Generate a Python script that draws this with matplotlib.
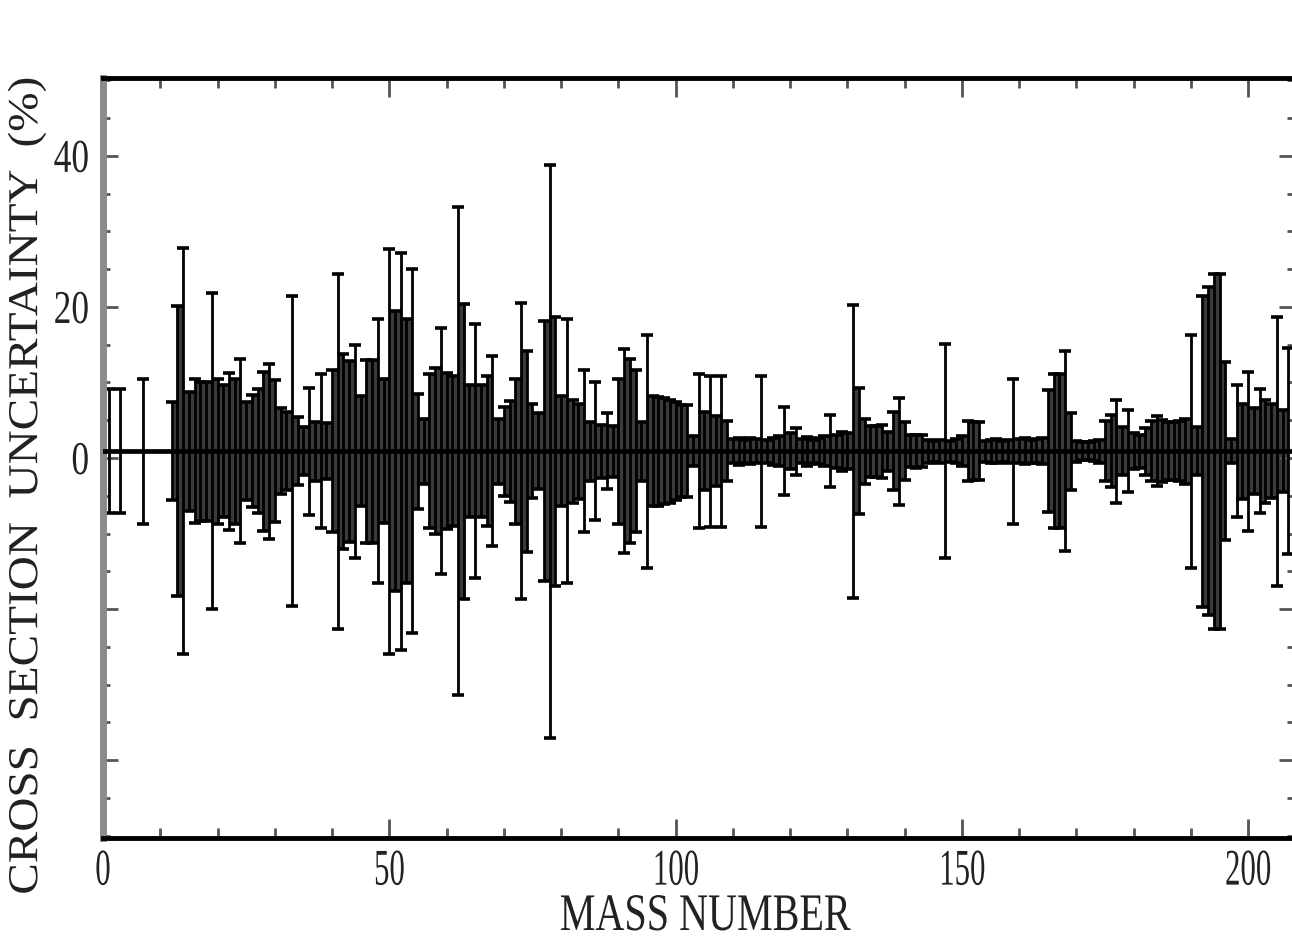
import numpy as np
import matplotlib
matplotlib.use("Agg")
import matplotlib.pyplot as plt
from matplotlib import patheffects
from matplotlib.transforms import Affine2D

plt.rcParams['font.family'] = ['Liberation Serif', 'DejaVu Serif']

# mass numbers and relative cross-section uncertainties (%)
mass = [1, 3, 7] + list(range(12, 208))
uncert = [
    8.2, 8.2, 9.6,
    # 12-31
    6.5, 19.2, 26.9, 7.9, 9.5, 9.2, 9.2, 20.9, 9.6, 8.7,
    10.4, 9.6, 12.2, 6.5, 7.4, 8.2, 10.5, 11.6, 9.4, 5.7,
    # 32-51
    5.2, 20.5, 4.5, 3.2, 8.4, 3.9, 10.2, 3.7, 10.7, 23.5,
    12.9, 12.0, 14.1, 7.3, 12.1, 12.1, 17.5, 9.5, 26.8, 18.5,
    # 52-71
    26.3, 17.5, 24.1, 7.6, 4.3, 10.2, 11.0, 16.3, 10.3, 9.9,
    32.3, 19.5, 8.7, 16.8, 8.7, 9.9, 12.6, 4.3, 5.9, 6.7,
    # 72-91
    9.6, 19.6, 13.3, 6.2, 5.0, 17.2, 37.9, 17.8, 7.3, 17.5,
    6.8, 6.3, 10.7, 3.9, 9.1, 3.5, 5.0, 3.4, 9.6, 13.5,
    # 92-111
    12.2, 10.7, 3.9, 15.4, 7.3, 7.2, 7.0, 6.8, 6.5, 6.1,
    6.1, 2.0, 10.2, 5.2, 10.0, 4.6, 10.0, 4.0, 1.6, 1.8,
    # 112-131
    1.5, 1.7, 1.6, 10.0, 1.5, 1.8, 2.0, 5.8, 2.4, 3.1,
    1.6, 1.9, 1.5, 1.7, 2.0, 4.8, 2.2, 2.6, 2.4, 19.4,
    # 132-151
    8.3, 4.3, 3.4, 3.4, 3.5, 2.6, 5.2, 7.1, 3.8, 2.1,
    2.2, 2.1, 1.5, 1.4, 1.5, 14.2, 1.4, 1.6, 2.0, 4.0,
    # 152-171
    3.8, 3.8, 1.4, 1.5, 1.6, 1.4, 1.5, 9.6, 1.6, 1.7,
    1.5, 1.6, 1.7, 8.1, 10.2, 10.2, 13.2, 5.1, 1.4, 1.2,
    # 172-191
    1.2, 1.3, 1.5, 4.0, 4.8, 6.8, 3.2, 5.4, 2.4, 2.2,
    3.1, 4.0, 4.6, 4.1, 3.8, 3.8, 4.0, 4.3, 15.4, 3.2,
    # 192-207
    20.6, 21.7, 23.5, 23.5, 11.8, 1.6, 8.7, 6.3, 10.5, 5.7,
    8.2, 6.8, 6.2, 17.8, 5.4, 13.6,
]
central = 0.9

xticks = [0, 50, 100, 150, 200]
yticks = [-40, -20, 0, 20, 40]
ytick_labels = ['', '', '0', '20', '40']


class Squeeze(patheffects.AbstractPathEffect):
    """Reshape the glyphs of a text (the scanned figure uses a condensed face)."""

    def __init__(self, sx=1.0, sy=1.0, anchor='center'):
        super().__init__()
        self.sx, self.sy, self.anchor = sx, sy, anchor

    def draw_path(self, renderer, gc, tpath, affine, rgbFace=None):
        ext = tpath.get_extents()
        cx = ext.x1 if self.anchor == 'right' else 0.5 * (ext.x0 + ext.x1)
        cy = 0.5 * (ext.y0 + ext.y1)
        pre = Affine2D().translate(-cx, -cy).scale(self.sx, self.sy).translate(cx, cy)
        renderer.draw_path(gc, tpath, pre + affine, rgbFace)


mass = np.array(mass)
uncert = np.array(uncert)

fig = plt.figure(figsize=(12.92, 9.43), dpi=100)
ax = fig.add_axes([103 / 1292, 105 / 943, 1191 / 1292, 760 / 943])

# dark shading between neighbouring error bars (what the dense bars look like)
adj = np.diff(mass) == 1
lo = np.minimum(uncert[:-1], uncert[1:])[adj]
ax.bar(mass[:-1][adj] + 0.5, 2 * lo, bottom=central - lo, width=1.0,
       color='#3a3a3a', linewidth=0, zorder=1)

ax.errorbar(mass, np.full(len(mass), central), yerr=uncert, fmt='none',
            ecolor='black', elinewidth=2.0, capsize=4.5, capthick=2.6, zorder=2)
ax.axhline(central, color='black', lw=3.4, zorder=3)

ax.set_xlim(0, 208)
ax.set_ylim(-50.3, 50.3)

ax.set_xticks(xticks)
ax.set_xticks(np.arange(10, 208, 10), minor=True)
ax.set_yticks(yticks, labels=ytick_labels)
ax.set_yticks(np.arange(-50, 51, 5), minor=True)

ax.tick_params(axis='both', which='both', direction='in', top=True, right=True,
               color='#555555', width=2)
ax.tick_params(axis='x', which='major', length=14, labelsize=37, pad=8)
ax.tick_params(axis='x', which='minor', length=7)
ax.tick_params(axis='y', which='major', length=11, labelsize=26, pad=10)
ax.tick_params(axis='y', which='minor', length=5)

for lab in ax.get_xticklabels():
    lab.set_path_effects([Squeeze(sx=0.6)])
    lab.set_color('#222222')
for lab in ax.get_yticklabels():
    lab.set_path_effects([Squeeze(sx=0.98, sy=1.3, anchor='right')])
    lab.set_color('#222222')

for side in ['top', 'bottom', 'right']:
    ax.spines[side].set_linewidth(3.5)
    ax.spines[side].set_color('black')
ax.spines['left'].set_linewidth(5)
ax.spines['left'].set_color('#8a8a8a')

fig.text(705 / 1292, 2 / 943, 'MASS NUMBER', fontsize=38, ha='center',
         va='bottom', color='#222222', path_effects=[Squeeze(sx=0.76)])
fig.text(27 / 1292, 0.485, 'CROSS  SECTION  UNCERTAINTY  (%)', fontsize=34,
         rotation=90, ha='center', va='center', color='#222222',
         path_effects=[Squeeze(sy=0.9)])

fig.savefig('out.png', dpi=100)
